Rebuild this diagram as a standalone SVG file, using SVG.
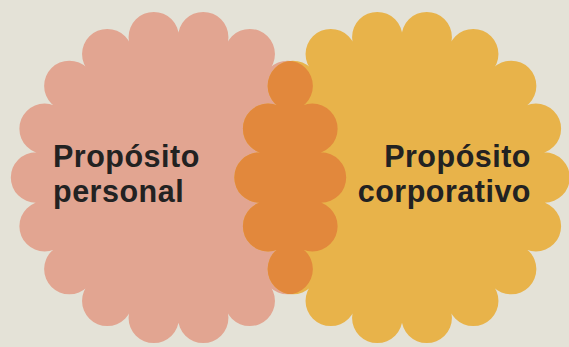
<svg xmlns="http://www.w3.org/2000/svg" xmlns:xlink="http://www.w3.org/1999/xlink" width="569" height="347" viewBox="0 0 569 347">
<style>
.lbl{font-family:"Liberation Sans",Arial,sans-serif;font-weight:700;font-size:30.5px;letter-spacing:0.5px;fill:#222222}
.end{text-anchor:end}
</style>
<defs>
<path id="flower" d="M-142.5,0a142.5,142.5 0 1,0 285,0a142.5,142.5 0 1,0 -285,0z
M117.3,0a25.2,25.2 0 1,0 50.4,0a25.2,25.2 0 1,0 -50.4,0z
M108.71,-48.74a25.2,25.2 0 1,0 50.4,0a25.2,25.2 0 1,0 -50.4,0z
M83.96,-91.6a25.2,25.2 0 1,0 50.4,0a25.2,25.2 0 1,0 -50.4,0z
M46.05,-123.41a25.2,25.2 0 1,0 50.4,0a25.2,25.2 0 1,0 -50.4,0z
M-0.46,-140.34a25.2,25.2 0 1,0 50.4,0a25.2,25.2 0 1,0 -50.4,0z
M-49.94,-140.34a25.2,25.2 0 1,0 50.4,0a25.2,25.2 0 1,0 -50.4,0z
M-96.45,-123.41a25.2,25.2 0 1,0 50.4,0a25.2,25.2 0 1,0 -50.4,0z
M-134.36,-91.6a25.2,25.2 0 1,0 50.4,0a25.2,25.2 0 1,0 -50.4,0z
M-159.11,-48.74a25.2,25.2 0 1,0 50.4,0a25.2,25.2 0 1,0 -50.4,0z
M-167.7,0a25.2,25.2 0 1,0 50.4,0a25.2,25.2 0 1,0 -50.4,0z
M-159.11,48.74a25.2,25.2 0 1,0 50.4,0a25.2,25.2 0 1,0 -50.4,0z
M-134.36,91.6a25.2,25.2 0 1,0 50.4,0a25.2,25.2 0 1,0 -50.4,0z
M-96.45,123.41a25.2,25.2 0 1,0 50.4,0a25.2,25.2 0 1,0 -50.4,0z
M-49.94,140.34a25.2,25.2 0 1,0 50.4,0a25.2,25.2 0 1,0 -50.4,0z
M-0.46,140.34a25.2,25.2 0 1,0 50.4,0a25.2,25.2 0 1,0 -50.4,0z
M46.05,123.41a25.2,25.2 0 1,0 50.4,0a25.2,25.2 0 1,0 -50.4,0z
M83.96,91.6a25.2,25.2 0 1,0 50.4,0a25.2,25.2 0 1,0 -50.4,0z
M108.71,48.74a25.2,25.2 0 1,0 50.4,0a25.2,25.2 0 1,0 -50.4,0z"/>
<clipPath id="clipL" clipPathUnits="userSpaceOnUse">
<use xlink:href="#flower" href="#flower" transform="translate(178.5,177.5)"/>
</clipPath>
</defs>
<rect width="569" height="347" fill="#E4E2D7"/>
<g id="node-personal">
<use xlink:href="#flower" href="#flower" transform="translate(178.5,177.5)" fill="#E2A591"/>
<text class="lbl"><tspan x="53" y="167">Propósito</tspan><tspan x="53" y="202">personal</tspan></text>
</g>
<g id="node-corporativo">
<use xlink:href="#flower" href="#flower" transform="translate(402,177.5)" fill="#E8B34A"/>
<text class="lbl end"><tspan x="531" y="167">Propósito</tspan><tspan x="531" y="202">corporativo</tspan></text>
</g>
<g id="node-overlap" clip-path="url(#clipL)">
<use xlink:href="#flower" href="#flower" transform="translate(402,177.5)" fill="#E2883C"/>
</g>
</svg>
